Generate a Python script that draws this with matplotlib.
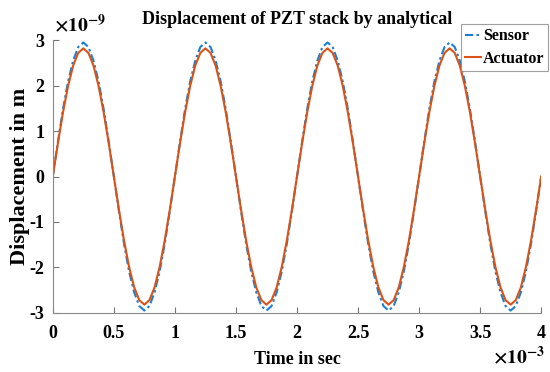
import numpy as np
import matplotlib
matplotlib.use('Agg')
import matplotlib.pyplot as plt

# one cycle (1 ms) sampled every 1/24 ms, values in units of 1e-9 m
sensor_cycle = [0, 0.76, 1.48, 2.09, 2.55, 2.85, 2.95, 2.85, 2.55, 2.09, 1.48, 0.76,
                0, -0.76, -1.48, -2.09, -2.55, -2.85, -2.95, -2.85, -2.55, -2.09, -1.48, -0.76]
actuator_cycle = [0, 0.73, 1.41, 1.99, 2.44, 2.72, 2.82, 2.72, 2.44, 1.99, 1.41, 0.73,
                  0, -0.73, -1.41, -1.99, -2.44, -2.72, -2.82, -2.72, -2.44, -1.99, -1.41, -0.73]
n_cycles = 4
sensor = sensor_cycle * n_cycles + [0]
actuator = actuator_cycle * n_cycles + [0]
time_ms = np.arange(len(sensor)) / len(sensor_cycle)

x_ticks = [0, 0.5, 1, 1.5, 2, 2.5, 3, 3.5, 4]
x_labels = ['0', '0.5', '1', '1.5', '2', '2.5', '3', '3.5', '4']
y_ticks = [-3, -2, -1, 0, 1, 2, 3]
y_labels = ['-3', '-2', '-1', '0', '1', '2', '3']

plt.rcParams['font.family'] = ['Liberation Serif', 'DejaVu Serif']
plt.rcParams['font.weight'] = 'bold'
plt.rcParams['mathtext.fontset'] = 'stix'

fig = plt.figure(figsize=(5.5, 3.72), dpi=100)
ax = fig.add_axes([0.096, 0.159, 0.888, 0.733])

ax.plot(time_ms, sensor, color='#1F7FCC', linestyle=(0, (4, 1.5, 1.2, 1.5)), linewidth=1.5, label='Sensor')
ax.plot(time_ms, actuator, color='#D95319', linestyle='-', linewidth=1.5, label='Actuator')

ax.set_xlim(0, 4)
ax.set_ylim(-3, 3)
ax.set_xticks(x_ticks)
ax.set_xticklabels(x_labels, fontsize=13, fontweight='bold')
ax.set_yticks(y_ticks)
ax.set_yticklabels(y_labels, fontsize=13, fontweight='bold')
ax.tick_params(axis='x', direction='in', length=4, color='#777777', pad=9)
ax.tick_params(axis='y', direction='in', length=4, color='#777777', pad=6)
ax.spines['top'].set_visible(False)
ax.spines['right'].set_visible(False)
ax.spines['left'].set_color('#888888')
ax.spines['bottom'].set_color('#888888')

ax.set_title('Displacement of PZT stack by analytical', fontsize=13, fontweight='bold', pad=12)
ax.set_xlabel('Time in sec', fontsize=13, fontweight='bold', labelpad=6)
ax.set_ylabel('Displacement in m', fontsize=16, fontweight='bold')
ax.yaxis.set_label_coords(-0.047, 0.5)

fig.text(0.098, 0.905, r'$\times 10^{-9}$', fontsize=14, ha='left', va='bottom')
fig.text(0.992, 0.012, r'$\times 10^{-3}$', fontsize=14, ha='right', va='bottom')

leg = fig.legend(loc='upper right', bbox_to_anchor=(0.997, 0.935), fontsize=11.5,
                 frameon=True, fancybox=False, edgecolor='#888888',
                 handlelength=1.0, handletextpad=0.1, borderpad=0.25, labelspacing=0.4,
                 borderaxespad=0)
leg.get_frame().set_linewidth(0.8)
for t in leg.get_texts():
    t.set_fontweight('bold')

plt.savefig('out.png', dpi=100)
